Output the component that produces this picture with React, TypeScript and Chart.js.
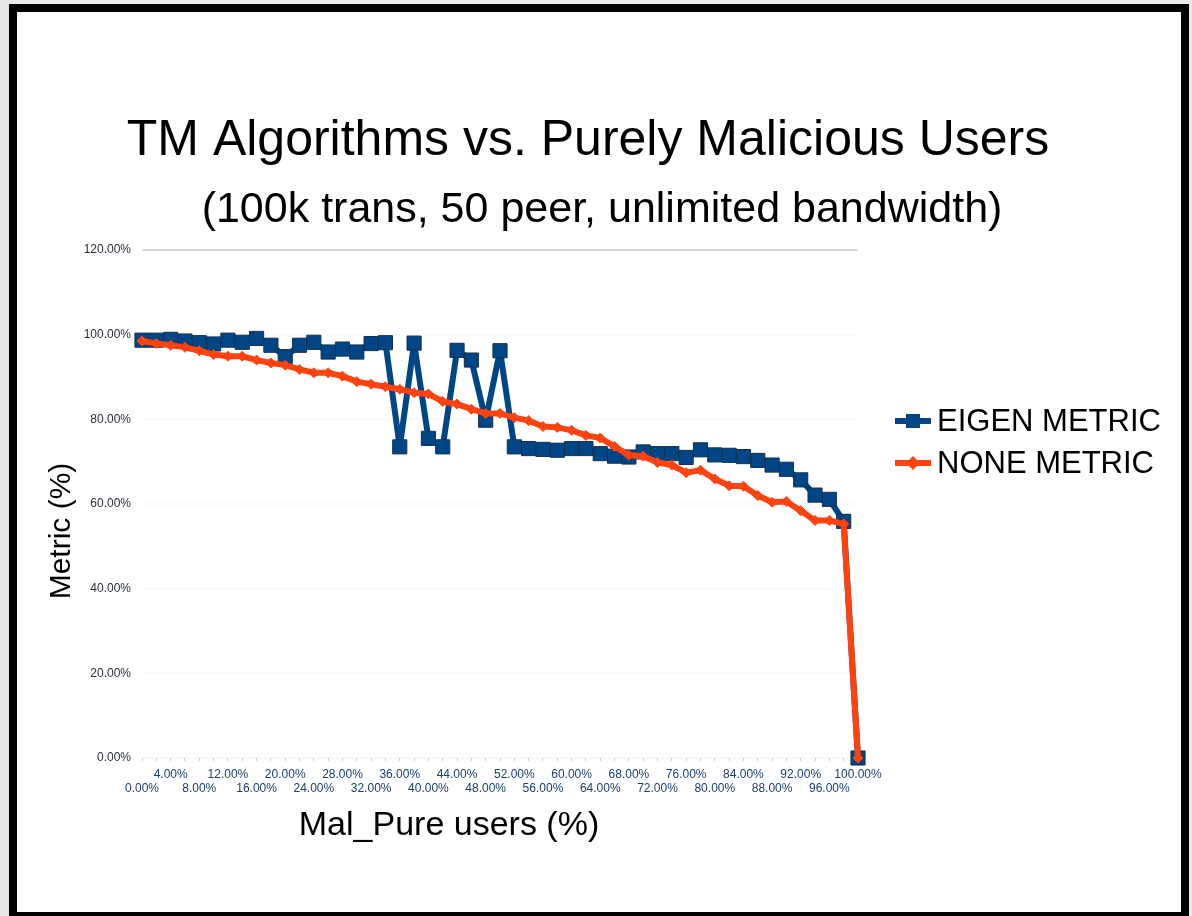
import React, { useEffect, useRef } from "react";
import { Chart, registerables } from "chart.js";

Chart.register(...registerables);

const categories: string[] = [
  "0.00%", "2.00%", "4.00%", "6.00%", "8.00%", "10.00%", "12.00%", "14.00%", "16.00%", "18.00%",
  "20.00%", "22.00%", "24.00%", "26.00%", "28.00%", "30.00%", "32.00%", "34.00%", "36.00%", "38.00%",
  "40.00%", "42.00%", "44.00%", "46.00%", "48.00%", "50.00%", "52.00%", "54.00%", "56.00%", "58.00%",
  "60.00%", "62.00%", "64.00%", "66.00%", "68.00%", "70.00%", "72.00%", "74.00%", "76.00%", "78.00%",
  "80.00%", "82.00%", "84.00%", "86.00%", "88.00%", "90.00%", "92.00%", "94.00%", "96.00%", "98.00%",
  "100.00%",
];

const eigenMetric: number[] = [
  98.7, 98.7, 98.9, 98.5, 98.1, 97.8, 98.7, 98.2, 99.1, 97.5,
  94.8, 97.5, 98.2, 95.9, 96.6, 95.9, 97.9, 98.1, 73.5, 98.0,
  75.5, 73.5, 96.3, 94.0, 79.8, 96.2, 73.5, 73.1, 72.9, 72.7,
  73.1, 73.1, 71.9, 71.3, 71.1, 72.3, 71.9, 71.9, 71.0, 72.8,
  71.6, 71.5, 71.2, 70.3, 69.2, 68.2, 65.7, 62.1, 61.1, 55.9,
  0,
];

const noneMetric: number[] = [
  98.5, 97.9, 97.5, 97.0, 96.2, 95.3, 94.9, 94.9, 94.0, 93.3,
  92.8, 91.8, 91.0, 91.0, 90.2, 88.9, 88.3, 87.7, 87.1, 86.3,
  86.0, 84.2, 83.6, 82.4, 81.4, 81.4, 80.4, 79.7, 78.3, 78.1,
  77.4, 76.2, 75.6, 73.6, 71.5, 71.3, 69.8, 69.2, 67.4, 68.0,
  65.9, 64.3, 64.2, 62.0, 60.4, 60.6, 58.4, 56.1, 56.1, 55.3,
  0,
];

const seriesNames: string[] = ["EIGEN METRIC", "NONE METRIC"];
const titleText = "TM Algorithms vs. Purely Malicious Users";
const subtitleText = "(100k trans, 50 peer, unlimited bandwidth)";
const xTitle = "Mal_Pure users (%)";
const yTitle = "Metric (%)";

const BLUE = "#004586";
const ORANGE = "#ff420e";
const FONT = '"Liberation Sans", Arial, sans-serif';

const textPlugin = {
  id: "customText",
  afterDraw(chart: any) {
    const ctx = chart.ctx as CanvasRenderingContext2D;
    ctx.save();
    ctx.fillStyle = "#000";
    ctx.textAlign = "center";
    ctx.textBaseline = "alphabetic";
    ctx.font = `50px ${FONT}`;
    ctx.fillText(titleText, 588, 155);
    ctx.font = `43px ${FONT}`;
    ctx.fillText(subtitleText, 602, 222);
    ctx.font = `34px ${FONT}`;
    ctx.fillText(xTitle, 449, 835);
    ctx.save();
    ctx.translate(62, 531);
    ctx.rotate(-Math.PI / 2);
    ctx.font = `30px ${FONT}`;
    ctx.textBaseline = "middle";
    ctx.fillText(yTitle, 0, 0);
    ctx.restore();

    // legend
    const rows = [421, 463];
    chart.data.datasets.forEach((ds: any, i: number) => {
      const y = rows[i];
      ctx.strokeStyle = ds.borderColor;
      ctx.lineWidth = 6;
      ctx.beginPath();
      ctx.moveTo(895, y);
      ctx.lineTo(931, y);
      ctx.stroke();
      ctx.fillStyle = ds.borderColor;
      ctx.beginPath();
      if (i === 0) {
        ctx.rect(913 - 7, y - 7, 14, 14);
      } else {
        ctx.moveTo(913, y - 7);
        ctx.lineTo(920, y);
        ctx.lineTo(913, y + 7);
        ctx.lineTo(906, y);
        ctx.closePath();
      }
      ctx.fill();
      ctx.fillStyle = "#000";
      ctx.textAlign = "left";
      ctx.textBaseline = "middle";
      ctx.font = `31px ${FONT}`;
      ctx.fillText(ds.label, 937, y + 1);
    });
    ctx.restore();
  },
};

export default function App() {
  const ref = useRef<HTMLCanvasElement | null>(null);

  useEffect(() => {
    if (!ref.current) return;
    const chart = new Chart(ref.current, {
      type: "line",
      data: {
        labels: categories,
        datasets: [
          {
            label: seriesNames[0],
            data: eigenMetric,
            borderColor: BLUE,
            backgroundColor: BLUE,
            borderWidth: 6,
            borderJoinStyle: "round",
            pointStyle: "rect",
            pointRadius: 10,
            pointBorderColor: "#12324f",
            pointBorderWidth: 1,
            pointBackgroundColor: BLUE,
            tension: 0,
            order: 2,
            clip: false,
          },
          {
            label: seriesNames[1],
            data: noneMetric,
            borderColor: ORANGE,
            backgroundColor: ORANGE,
            borderWidth: 6,
            borderJoinStyle: "round",
            pointStyle: "rectRot",
            pointRadius: 5,
            pointBorderColor: ORANGE,
            pointBorderWidth: 1,
            pointBackgroundColor: ORANGE,
            tension: 0,
            order: 1,
            clip: false,
          },
        ],
      },
      options: {
        responsive: false,
        maintainAspectRatio: false,
        animation: false,
        devicePixelRatio: 1,
        layout: { padding: { left: 82, top: 250, right: 334, bottom: 108 } },
        plugins: {
          legend: { display: false },
          title: { display: false },
          tooltip: { enabled: false },
        },
        scales: {
          x: {
            type: "category",
            offset: false,
            border: { display: false },
            grid: {
              display: true,
              drawOnChartArea: false,
              drawTicks: true,
              tickLength: 3,
              color: "#cfcfcf",
            },
            ticks: {
              autoSkip: false,
              maxRotation: 0,
              minRotation: 0,
              padding: 7,
              color: "#1b3f6e",
              font: { family: FONT, size: 12, lineHeight: 1.17 },
              callback: (_v: any, index: number) => {
                const lbl = categories[index];
                if (index % 4 === 0) return ["", lbl];
                if (index % 2 === 0) return [lbl, ""];
                return "";
              },
            },
            afterFit: (scale: any) => {
              scale.height = 50;
            },
          },
          y: {
            min: 0,
            max: 120,
            border: { display: false },
            grid: {
              drawTicks: false,
              color: (c: any) => (c.tick && c.tick.value === 120 ? "#d9d9d9" : "rgba(0,0,0,0.02)"),
              lineWidth: 2,
            },
            ticks: {
              stepSize: 20,
              padding: 11,
              color: "#2a2f3a",
              font: { family: FONT, size: 12 },
              callback: (v: any) => Number(v).toFixed(2) + "%",
            },
            afterFit: (scale: any) => {
              scale.width = 60;
            },
          },
        },
      },
      plugins: [textPlugin],
    });
    return () => chart.destroy();
  }, []);

  return (
    <div
      style={{
        position: "fixed",
        left: 0,
        top: 0,
        width: 1192,
        height: 916,
        background: "#e9e9e9",
        overflow: "hidden",
      }}
    >
      <div
        style={{
          position: "absolute",
          left: 9,
          top: 4,
          width: 1180,
          height: 916,
          boxSizing: "border-box",
          border: "8px solid #000",
          background: "#fff",
        }}
      />
      <canvas
        ref={ref}
        width={1192}
        height={916}
        style={{ position: "absolute", left: 0, top: 0, width: 1192, height: 916 }}
      />
    </div>
  );
}
